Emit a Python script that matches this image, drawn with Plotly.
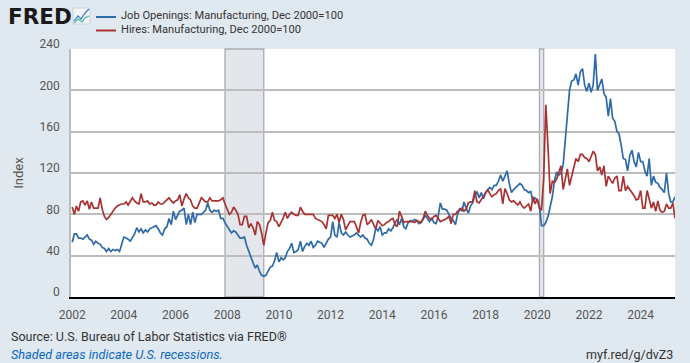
import pandas as pd
import plotly.graph_objects as go

dates = pd.date_range("2002-01-01", "2025-05-01", freq="MS")

job_openings = [
    53,61,61,57,57,56,58,60,56,55,51,54,
    52,51,48,47,44,47,44,46,45,46,44,50,
    58,57,56,54,58,61,67,63,66,62,65,63,
    66,67,68,69,66,62,60,66,68,76,70,83,
    75,80,83,84,86,70,80,70,82,72,80,80,
    80,82,84,91,84,82,84,83,84,76,76,72,
    68,65,62,64,63,60,57,57,58,50,44,37,
    33,28,31,25,21,20,21,25,29,30,35,43,
    34,38,36,38,44,47,52,43,44,46,54,44,
    49,52,50,54,48,50,54,53,52,48,52,56,
    58,73,60,58,72,62,60,63,60,58,59,60,
    62,60,58,60,57,56,52,50,56,67,64,68,
    60,62,62,66,64,67,72,75,70,76,68,66,
    72,74,73,75,74,71,72,75,79,76,73,76,
    72,71,78,91,85,85,84,80,76,74,70,80,
    86,83,92,86,81,88,91,98,102,96,101,95,
    101,104,106,104,108,108,112,118,112,117,122,110,
    101,104,106,108,110,108,104,103,101,102,92,96,
    94,88,69,69,72,78,87,97,113,121,118,120,
    128,155,178,200,209,210,216,205,218,221,205,199,
    207,198,205,235,200,205,211,197,193,175,192,173,
    170,160,158,147,134,133,122,137,142,131,126,140,
    131,131,122,117,134,108,117,111,110,106,104,101,
    120,100,92,92,97,
]
hires = [
    87,80,88,83,92,93,89,93,85,92,86,86,
    86,96,85,78,75,77,80,84,86,88,89,90,
    90,92,89,93,96,93,91,90,100,92,92,93,
    90,91,89,89,92,90,90,92,94,96,93,91,
    93,94,99,88,95,100,96,94,88,86,86,92,
    96,94,92,92,96,93,93,93,93,94,96,90,
    84,80,82,87,84,80,70,70,78,78,67,71,
    67,60,73,70,62,50,62,72,74,82,74,73,
    68,72,76,82,76,80,82,80,79,79,87,83,
    80,80,80,80,80,76,75,74,73,70,66,79,
    79,79,76,80,72,80,75,65,69,73,73,73,
    68,62,72,79,80,70,72,75,70,66,74,72,
    69,70,72,73,75,76,70,68,83,78,72,73,
    73,73,73,72,74,73,72,76,83,79,76,75,
    78,79,76,73,74,75,76,78,71,80,80,83,
    84,86,83,85,91,92,92,103,92,91,94,97,
    100,104,100,97,99,100,103,105,90,105,100,94,
    92,93,91,89,92,88,86,88,90,83,97,90,
    95,86,84,115,186,145,100,112,111,114,120,127,
    104,115,124,108,116,124,134,131,138,138,135,134,
    131,136,141,138,122,126,118,127,107,117,113,110,
    115,117,103,103,117,103,107,104,102,98,94,95,
    103,86,86,103,95,86,92,83,93,84,82,83,
    90,86,86,91,76,
]
recessions = [("2007-12-01", "2009-06-01"), ("2020-02-01", "2020-04-01")]
y_ticks = [0, 40, 80, 120, 160, 200, 240]
x_ticks = list(range(2002, 2026, 2))
series_names = ["Job Openings: Manufacturing, Dec 2000=100", "Hires: Manufacturing, Dec 2000=100"]
series_colors = ["#2f6aa8", "#a83232"]

BG = "#e1e9f0"
TXT = "#555555"
L, R, T, B = 71, 675, 49, 297
def px(X): return (X - L) / (R - L)
def py(Y): return (B - Y) / (B - T)

fig = go.Figure()
for vals, name, col in zip([job_openings, hires], series_names, series_colors):
    fig.add_trace(go.Scatter(x=dates, y=vals, mode="lines", name=name, line=dict(color=col, width=1.7)))

for a, b in recessions:
    fig.add_shape(type="rect", xref="x", yref="paper", x0=a, x1=b, y0=0, y1=1, layer="below",
                  fillcolor="#e3e7eb", line=dict(color="#a9adb1", width=1.3))

anns = [
    dict(text="<b>FRED</b>", x=px(6), y=py(16), xanchor="left",
         font=dict(family="DejaVu Sans", size=21.5, color="#1a1a1a")),
    dict(text="Source: U.S. Bureau of Labor Statistics via FRED®", x=px(9), y=py(336), xanchor="left",
         font=dict(size=12.5, color="#333333")),
    dict(text="<i>Shaded areas indicate U.S. recessions.</i>", x=px(9), y=py(354), xanchor="left",
         font=dict(size=12.7, color="#0a68c4")),
    dict(text="myf.red/g/dvZ3", x=px(675), y=py(354), xanchor="right",
         font=dict(size=12.5, color="#333333")),
]
for i, (name, col) in enumerate(zip(series_names, series_colors)):
    Y = 15.5 + i * 13.5
    anns.append(dict(text=name, x=px(118.5), y=py(Y), xanchor="left", font=dict(size=11.1, color="#333333")))
    fig.add_shape(type="line", xref="paper", yref="paper", x0=px(96), x1=px(116), y0=py(Y + 1.5), y1=py(Y + 1.5),
                  line=dict(color=col, width=2))
for a in anns:
    a.update(xref="paper", yref="paper", yanchor="middle", showarrow=False)

# small FRED graph icon
fig.add_shape(type="rect", xref="paper", yref="paper", x0=px(73), x1=px(90), y0=py(24), y1=py(8),
              fillcolor="#f2f5f7", line=dict(color="#c9d3da", width=1))
fig.add_shape(type="path", xref="paper", yref="paper",
              path=f"M {px(74)} {py(21)} L {px(78)} {py(16)} L {px(81)} {py(19)} L {px(85)} {py(13)} L {px(89)} {py(9)}",
              line=dict(color="#3f7fc4", width=1.2))
fig.add_shape(type="path", xref="paper", yref="paper",
              path=f"M {px(74)} {py(23)} L {px(78)} {py(19)} L {px(82)} {py(22)} L {px(85)} {py(18)} L {px(89)} {py(16)}",
              line=dict(color="#4db8a8", width=1.2))

fig.update_layout(
    width=690, height=363, autosize=False,
    paper_bgcolor=BG, plot_bgcolor="#ffffff",
    margin=dict(l=L, r=690 - R, t=T, b=363 - B, autoexpand=False),
    font=dict(family="Roboto", size=12, color=TXT),
    showlegend=False,
    annotations=anns,
    xaxis=dict(
        range=["2001-12-15", "2025-05-01"], type="date",
        tickvals=[f"{y}-01-01" for y in x_ticks], ticktext=[str(y) for y in x_ticks],
        showgrid=False, ticks="outside", ticklen=6, tickcolor="rgba(0,0,0,0)",
        showline=True, linecolor="#000000", linewidth=2, zeroline=False,
        tickfont=dict(size=12, color=TXT),
    ),
    yaxis=dict(
        range=[0, 240], tickvals=y_ticks,
        gridcolor="#bcbcbc", gridwidth=1.5, zeroline=False,
        showline=True, linecolor="#bcbcbc", linewidth=1.5,
        ticks="outside", ticklen=7, tickcolor="rgba(0,0,0,0)",
        ticklabelshift=-5,
        tickfont=dict(size=12, color=TXT),
        title=dict(text="Index", font=dict(size=13, color=TXT), standoff=13),
    ),
)
fig.write_html("out.html", config={"displayModeBar": False},
               post_script="document.body.style.margin='0';document.documentElement.style.overflow='hidden';")
